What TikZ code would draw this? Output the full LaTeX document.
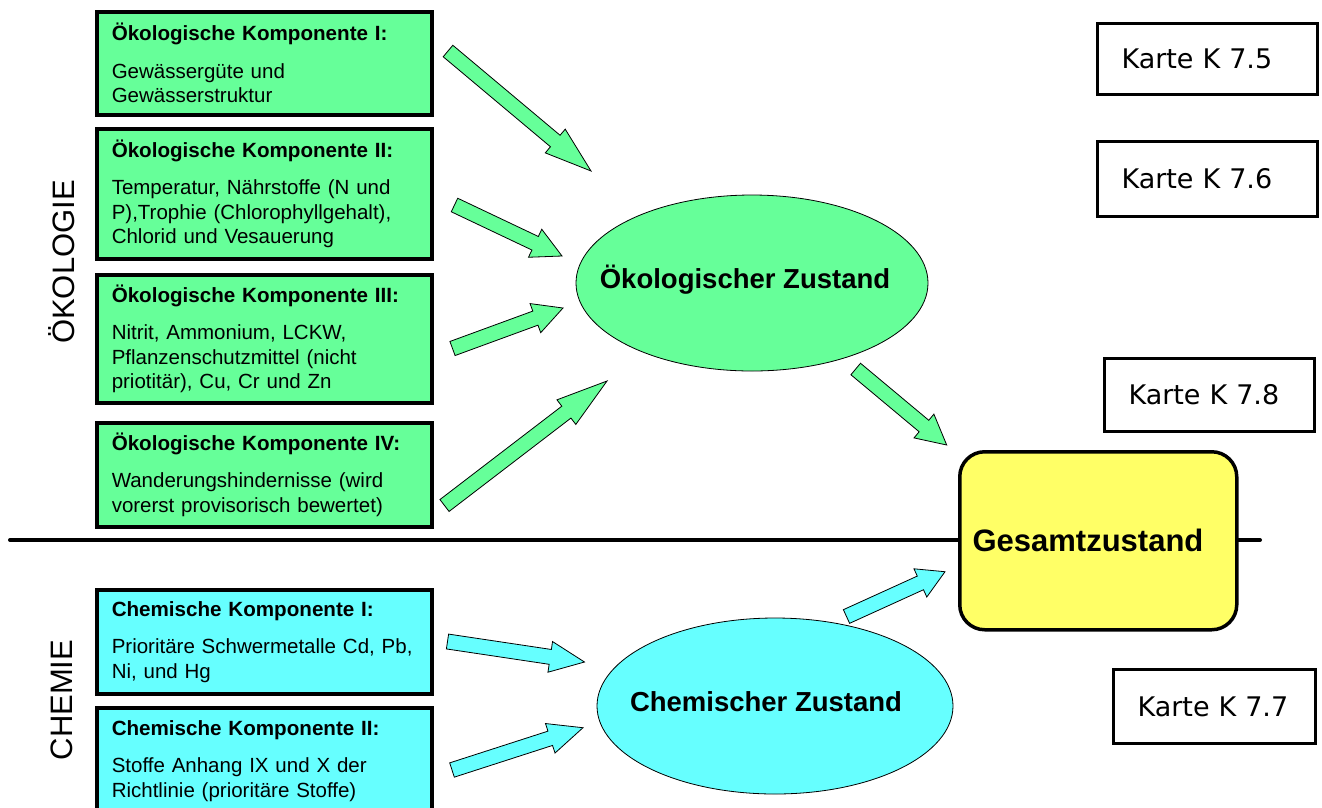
\documentclass[tikz,border=0pt]{standalone}
\usepackage{fontspec}
\setmainfont{Liberation Sans}
\newfontfamily\kartefont{DejaVu Sans}
\usetikzlibrary{shapes.geometric,calc}
\definecolor{oekogreen}{RGB}{102,255,153}
\definecolor{chemcyan}{RGB}{102,255,255}
\definecolor{gesyellow}{RGB}{255,255,102}
\newcommand{\titlef}{\fontsize{20.6}{24}\selectfont\bfseries}
\newcommand{\barrow}[3]{%
  \coordinate (hb) at ($(#2)!0.25!(#1)$);
  \draw[blockarrow, fill=#3]
    ($(#1)!7.5pt!90:(#2)$) -- ($(hb)!7.5pt!90:(#2)$) -- ($(hb)!15.5pt!90:(#2)$) -- (#2)
    -- ($(hb)!15.5pt!-90:(#2)$) -- ($(hb)!7.5pt!-90:(#2)$) -- ($(#1)!7.5pt!-90:(#2)$) -- cycle;
}
\tikzset{
  compbox/.style={draw=black, line width=3.5pt, anchor=north west, text width=305pt,
    inner xsep=15pt, inner ysep=0pt, align=left, font=\fontsize{20.5}{24.5}\selectfont},
  gbox/.style={compbox, fill=oekogreen},
  cbox/.style={compbox, fill=chemcyan},
  zustand/.style={ellipse, draw=black, line width=0.8pt, inner sep=0pt},
  zustandtext/.style={font=\fontsize{27.5}{32}\selectfont\bfseries, inner sep=0pt},
  gesamt/.style={draw=black, line width=3.5pt, rounded corners=25pt, fill=gesyellow,
    anchor=north west, minimum width=277pt, minimum height=178pt},
  gesamttext/.style={font=\fontsize{31}{36}\selectfont\bfseries, inner sep=0pt},
  karte/.style={draw=black, line width=3pt, anchor=north west, inner xsep=24pt,
    align=left, font=\kartefont\fontsize{27}{32}\selectfont},
  blockarrow/.style={draw=black, line width=0.8pt, line join=miter},
  divider/.style={draw=black, line width=4pt, line cap=round},
  sidelabel/.style={rotate=90, font=\fontsize{31}{36}\selectfont}
}
\begin{document}
\begin{tikzpicture}[x=1pt,y=-1pt]
\useasboundingbox[fill=white] (0,0) rectangle (1322,807);
\clip (0,0) rectangle (1322,807);

% divider line
\coordinate (divL) at (10,540);
\coordinate (divR) at (1260,540);
\draw[divider] (divL) -- (divR);

% side labels
\node[sidelabel] (lbloeko) at (62,262) {ÖKOLOGIE};
\node[sidelabel] (lblchem) at (62,700) {CHEMIE};

% ecological component boxes
\node[gbox, minimum height=103pt] (oek1) at (95,10)
  {{\titlef Ökologische Komponente I:}\\[13pt]Gewässergüte und\\Gewässerstruktur};
\node[gbox, minimum height=130pt] (oek2) at (95,127)
  {{\titlef Ökologische Komponente II:}\\[13pt]Temperatur, Nährstoffe (N und\\P),Trophie (Chlorophyllgehalt),\\Chlorid und Vesauerung};
\node[gbox, minimum height=128pt] (oek3) at (95,273)
  {{\titlef Ökologische Komponente III:}\\[13pt]Nitrit, Ammonium, LCKW,\\Pflanzenschutzmittel (nicht\\priotitär), Cu, Cr und Zn};
\node[gbox, minimum height=104pt] (oek4) at (95,421)
  {{\titlef Ökologische Komponente IV:}\\[13pt]Wanderungshindernisse (wird\\vorerst provisorisch bewertet)};

% chemical component boxes
\node[cbox, minimum height=104pt] (chem1) at (95,588)
  {{\titlef Chemische Komponente I:}\\[13pt]Prioritäre Schwermetalle Cd, Pb,\\Ni, und Hg};
\node[cbox, minimum height=106pt] (chem2) at (95,706)
  {{\titlef Chemische Komponente II:}\\[13pt]Stoffe Anhang IX und X der\\Richtlinie (prioritäre Stoffe)};

% state ellipses
\node[zustand, fill=oekogreen, minimum width=352pt, minimum height=176pt] (oekz) at (752,283) {};
\node[zustandtext] (oekzt) at (745,280) {Ökologischer Zustand};
\node[zustand, fill=chemcyan, minimum width=356pt, minimum height=176pt] (chemz) at (775,706) {};
\node[zustandtext] (chemzt) at (766,702) {Chemischer Zustand};

% overall state
\node[gesamt] (ges) at (958,450) {};
\node[gesamttext] (gest) at (1088,540) {Gesamtzustand};

% map labels
\node[karte, text width=172pt, minimum height=71pt] (k75) at (1096,22) {Karte K 7.5};
\node[karte, text width=172pt, minimum height=75pt] (k76) at (1096,140) {Karte K 7.6};
\node[karte, text width=162pt, minimum height=73pt] (k78) at (1103,357) {Karte K 7.8};
\node[karte, text width=154pt, minimum height=74pt] (k77) at (1112,668) {Karte K 7.7};

% arrow end points
\coordinate (a1s) at (448,51);    \coordinate (a1e) at (591,171);
\coordinate (a2s) at (454.5,205); \coordinate (a2e) at (562,256);
\coordinate (a3s) at (452.5,348.5); \coordinate (a3e) at (563,308);
\coordinate (a4s) at (444.5,505.5); \coordinate (a4e) at (607,381);
\coordinate (a5s) at (855.7,369); \coordinate (a5e) at (946.7,445);
\coordinate (a6s) at (846.5,616.5); \coordinate (a6e) at (945,571.7);
\coordinate (a7s) at (447.5,641.5); \coordinate (a7e) at (584.5,662);
\coordinate (a8s) at (452,770);   \coordinate (a8e) at (583,727.7);

\barrow{a1s}{a1e}{oekogreen}
\barrow{a2s}{a2e}{oekogreen}
\barrow{a3s}{a3e}{oekogreen}
\barrow{a4s}{a4e}{oekogreen}
\barrow{a5s}{a5e}{oekogreen}
\barrow{a6s}{a6e}{chemcyan}
\barrow{a7s}{a7e}{chemcyan}
\barrow{a8s}{a8e}{chemcyan}
\end{tikzpicture}
\end{document}
